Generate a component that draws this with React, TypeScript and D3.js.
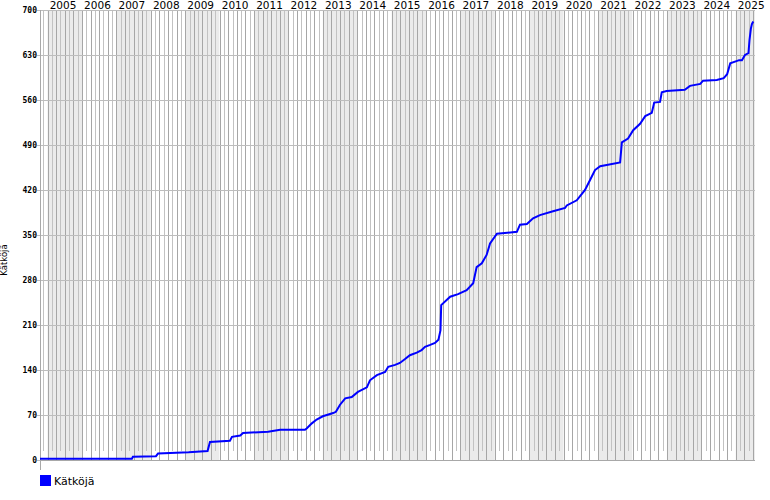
import React from "react";
import * as d3 from "d3";

const years: number[] = [
  2004.78, 2007.45, 2007.48, 2008.15, 2008.21, 2009.1, 2009.65, 2009.72, 2010.3, 2010.36,
  2010.6, 2010.68, 2011.41, 2011.76, 2012.48, 2012.53, 2012.68, 2012.82, 2013.0, 2013.3,
  2013.38, 2013.5, 2013.65, 2013.84, 2014.02, 2014.28, 2014.37, 2014.57, 2014.81, 2014.9,
  2015.1, 2015.24, 2015.39, 2015.53, 2015.73, 2015.87, 2015.97, 2016.12, 2016.26, 2016.36,
  2016.42, 2016.44, 2016.7, 2016.93, 2017.18, 2017.37, 2017.47, 2017.62, 2017.76, 2017.86,
  2018.06, 2018.64, 2018.73, 2018.93, 2019.11, 2019.31, 2019.69, 2020.04, 2020.09, 2020.38,
  2020.62, 2020.77, 2020.91, 2021.06, 2021.64, 2021.69, 2021.87, 2022.02, 2022.22, 2022.37,
  2022.56, 2022.63, 2022.8, 2022.85, 2022.99, 2023.52, 2023.67, 2023.97, 2024.05, 2024.45,
  2024.65, 2024.75, 2024.84, 2025.1, 2025.18, 2025.27, 2025.37, 2025.4, 2025.44, 2025.47,
  2025.51,
];
const caches: number[] = [
  2, 2, 5, 6, 10, 12, 14, 28, 30, 36,
  38, 42, 44, 47, 47, 49, 57, 63, 68, 73,
  75, 86, 96, 98, 106, 113, 124, 132, 137, 145,
  148, 151, 157, 163, 167, 171, 176, 179, 182, 187,
  202, 241, 254, 258, 264, 275, 300, 306, 319, 337,
  352, 355, 366, 367, 376, 381, 387, 392, 396, 404,
  420, 436, 451, 457, 463, 494, 500, 513, 523, 535,
  540, 556, 557, 572, 574, 576, 582, 585, 590, 591,
  594, 600, 617, 622, 622, 630, 633, 653, 671, 678,
  682,
];
const yearLabels: number[] = d3.range(2005, 2026);
const yTicks: number[] = [0, 70, 140, 210, 280, 350, 420, 490, 560, 630, 700];
const seriesName = "Kätköjä";

export default function App() {
  const W = 770, H = 500;
  const left = 40, right = 755, top = 10, bottom = 460;
  const x = d3.scaleLinear().domain([2004.78, 2025.56]).range([left, right]);
  const y = d3.scaleLinear().domain([0, 700]).range([bottom, top]);

  const bands = d3.range(2004, 2026).map((yr) => {
    const x0 = Math.max(left, x(yr));
    const x1 = Math.min(right, x(yr + 1));
    return { yr, x0, x1 };
  }).filter((b) => b.x1 > b.x0);

  const vlines: { xv: number; k: number }[] = [];
  for (let k = 2004 * 8; k <= 2026 * 8; k++) {
    const xv = x(k / 8);
    if (xv > left + 0.5 && xv < right) vlines.push({ xv: Math.round(xv) + 0.5, k });
  }

  const pts = years.map((yr, i) => [yr, caches[i]] as [number, number]);
  const line = d3.line<[number, number]>().x((d) => x(d[0])).y((d) => y(d[1])).curve(d3.curveLinear);

  return (
    <svg width={W} height={H} style={{ position: "absolute", left: 0, top: 0, background: "#fff" }}>
      <rect x={0} y={0} width={W} height={H} fill="#fff" />
      {bands.map((b) => (
        <rect key={b.yr} x={b.x0} y={top} width={b.x1 - b.x0} height={bottom - top}
          fill={b.yr % 2 === 1 ? "#ebebeb" : "#ffffff"} />
      ))}
      {vlines.map((v) => (
        <line key={v.k} x1={v.xv} x2={v.xv} y1={top} y2={v.k % 2 === 0 ? bottom : bottom - 9}
          stroke={v.k % 2 === 0 ? "#a6a6a6" : "#c2c2c2"} strokeWidth={1} />
      ))}
      {yTicks.map((t) => (
        <g key={t}>
          <line x1={left - 3} x2={right} y1={Math.round(y(t)) + 0.5} y2={Math.round(y(t)) + 0.5}
            stroke="#bdbdbd" strokeWidth={1} />
          <text x={left - 3} y={y(t)} dy="0.35em" textAnchor="end"
            fontFamily="DejaVu Sans Mono" fontSize={8} fontWeight="bold" fill="#000">{t}</text>
        </g>
      ))}
      <line x1={left + 0.5} x2={left + 0.5} y1={top} y2={470} stroke="#a8a8a8" />
      <line x1={left} x2={right} y1={bottom + 0.5} y2={bottom + 0.5} stroke="#a8a8a8" />
      {yearLabels.map((yr) => (
        <text key={yr} x={x(yr + 0.45)} y={9} textAnchor="middle"
          fontFamily="DejaVu Sans" fontSize={10.5} fill="#000">{yr}</text>
      ))}
      <text transform={`translate(7,260) rotate(-90)`} textAnchor="middle"
        fontFamily="DejaVu Sans" fontSize={8.5} fill="#000">{seriesName}</text>
      <path d={line(pts) || ""} fill="none" stroke="#0000ff" strokeWidth={2} />
      <rect x={40} y={475} width={11} height={11} fill="#0000ff" />
      <text x={54} y={485} fontFamily="DejaVu Sans" fontSize={11} fill="#000">{seriesName}</text>
    </svg>
  );
}
